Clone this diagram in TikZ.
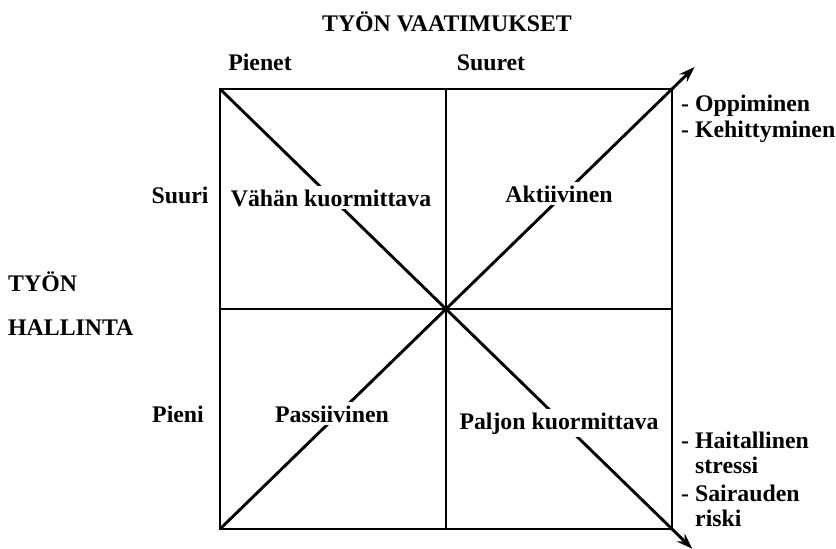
\documentclass[tikz,border=0pt]{standalone}
\usepackage{fontspec}
\setmainfont{Liberation Serif}
\usetikzlibrary{arrows.meta,calc}
\begin{document}
\begin{tikzpicture}[x=1pt,y=-1pt,
  lbl/.style={font=\fontsize{23.8}{27}\selectfont\bfseries, inner sep=0pt},
  cell/.style={lbl, fill=white, inner xsep=3pt, inner ysep=3pt},
  frame/.style={line width=2.8pt},
  diag/.style={line width=2.9pt, -{Stealth[length=16pt,width=11pt]}}
]
\useasboundingbox (0,0) rectangle (836,549);
\coordinate (TL) at (220,89);
\coordinate (TR) at (672,89);
\coordinate (BL) at (220,529);
\coordinate (BR) at (672,529);
\coordinate (TM) at (446,89);
\coordinate (BM) at (446,529);
\coordinate (ML) at (220,309);
\coordinate (MR) at (672,309);
\coordinate (A1) at ($(BL)!1.05!(TR)$);
\coordinate (A2) at ($(TL)!1.045!(BR)$);

\draw[frame] (TL) rectangle (BR);
\draw[frame] (TM) -- (BM);
\draw[frame] (ML) -- (MR);
\draw[diag] (BL) -- (A1);
\draw[diag] (TL) -- (A2);

\node[lbl, anchor=base] (title) at (447,31) {TYÖN VAATIMUKSET};
\node[lbl, anchor=base] (pienet) at (260,70) {Pienet};
\node[lbl, anchor=base] (suuret) at (491,70) {Suuret};
\node[lbl, anchor=base west] (tyon) at (8,291) {TYÖN};
\node[lbl, anchor=base west] (hallinta) at (8,335) {HALLINTA};
\node[lbl, anchor=base] (suuri) at (180,203) {Suuri};
\node[lbl, anchor=base] (pieni) at (178,422) {Pieni};
\node[cell, anchor=base] (vahan) at (331,206) {Vähän kuormittava};
\node[cell, anchor=base] (akt) at (559,202) {Aktiivinen};
\node[cell, anchor=base] (pass) at (332,422) {Passiivinen};
\node[cell, anchor=base] (paljon) at (559,429) {Paljon kuormittava};
\node[lbl, anchor=base west] (opp) at (681,111) {- Oppiminen};
\node[lbl, anchor=base west] (keh) at (681,137) {- Kehittyminen};
\node[lbl, anchor=base west] (hait) at (681,448) {- Haitallinen};
\node[lbl, anchor=base west] (stressi) at (695,473) {stressi};
\node[lbl, anchor=base west] (sair) at (681,501) {- Sairauden};
\node[lbl, anchor=base west] (riski) at (695,526) {riski};
\end{tikzpicture}
\end{document}
